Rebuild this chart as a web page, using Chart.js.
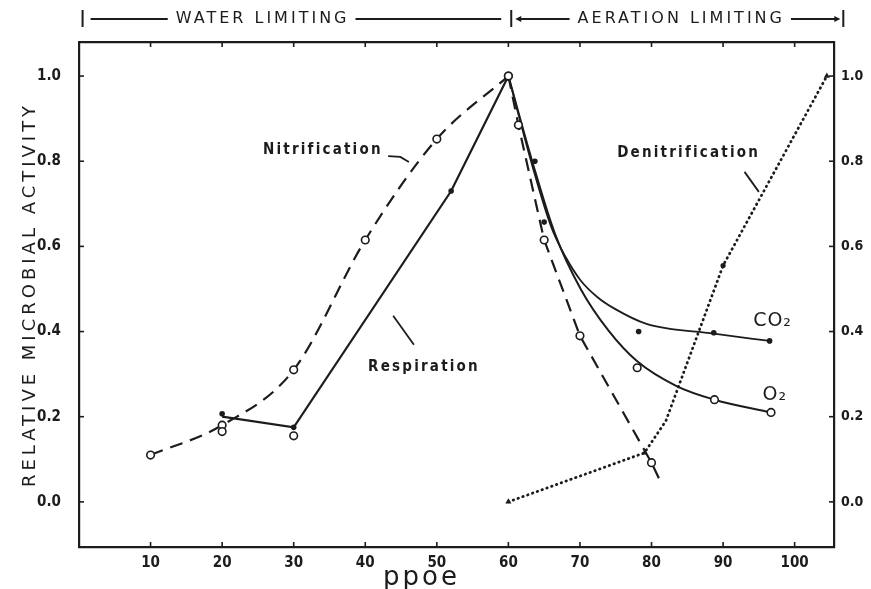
<!DOCTYPE html>
<html><head><meta charset="utf-8">
<script src="https://cdn.jsdelivr.net/npm/chart.js@4/dist/chart.umd.min.js"></script>
<style>html,body{margin:0;padding:0;background:#fff;overflow:hidden}</style>
</head><body>
<canvas id="c" width="871" height="589"></canvas>
<script>
// ---------------- data ----------------
const xTickValues = [10,20,30,40,50,60,70,80,90,100];
const yTickValues = [0,0.2,0.4,0.6,0.8,1.0];
const yTickLabels = ['0.0','0.2','0.4','0.6','0.8','1.0'];
const xTitle = 'ppoe';
const yTitle = 'RELATIVE MICROBIAL ACTIVITY';
const headerLabels = ['WATER LIMITING','AERATION LIMITING'];
const headerBounds = [0.5, 60.4, 106.8];

const nitrificationX = [10,20,30,40,50,60,61.4,65,70,80,81.4];
const nitrificationY = [0.11,0.18,0.31,0.615,0.852,1.0,0.885,0.615,0.39,0.092,0.042];
const respirationX = [20,30,52,60];
const respirationY = [0.2,0.175,0.73,1.0];
const co2CurveX = [60,63.5,66,68,70.1,72.5,74.7,79.3,88.7,96.5];
const co2CurveY = [1.0,0.78,0.645,0.575,0.52,0.48,0.455,0.418,0.395,0.378];
const o2CurveX = [60,63.5,66.5,70.1,74,78,83.5,88.8,96.7];
const o2CurveY = [1.0,0.79,0.63,0.50,0.402,0.33,0.272,0.24,0.21];
const co2PointsX = [20,30,52,63.7,65,78.2,88.7,96.5];
const co2PointsY = [0.207,0.175,0.73,0.80,0.657,0.40,0.397,0.378];
const o2PointsX = [20,30,78,88.8,96.7];
const o2PointsY = [0.165,0.155,0.315,0.24,0.21];
const denitrificationX = [60,79,82,90,104.5];
const denitrificationY = [0,0.115,0.19,0.555,1.0];

// ---------------- style ----------------
const ink = '#1c1c1c';
const narrow = "'Liberation Sans Narrow','DejaVu Sans Condensed','Arial Narrow',sans-serif";
const plain = "'DejaVu Sans','Liberation Sans',sans-serif";
const pts = (xs, ys) => xs.map((x, i) => ({x, y: ys[i]}));

const peak = nitrificationY.indexOf(Math.max(...nitrificationY));
const nitrRise = pts(nitrificationX.slice(0, peak + 1), nitrificationY.slice(0, peak + 1));
const nitrFall = pts(nitrificationX.slice(peak), nitrificationY.slice(peak));

const openPt = {pointStyle:'circle', pointRadius:3.8, pointBackgroundColor:'#fff', pointBorderColor:ink, pointBorderWidth:1.6};

const datasets = [
  {label:'CO2 measured', type:'scatter', data: pts(co2PointsX, co2PointsY), showLine:false,
   pointStyle:'circle', pointRadius:2.8, pointBackgroundColor:ink, pointBorderColor:ink, pointBorderWidth:0},
  {label:'O2 measured', type:'scatter', data: pts(o2PointsX, o2PointsY), showLine:false, ...openPt},
  {label:'Nitrification', data: nitrRise, borderColor:ink, borderWidth:2.2, borderDash:[13,8],
   cubicInterpolationMode:'monotone', fill:false, ...openPt},
  {label:'Nitrification (falling)', data: nitrFall, borderColor:ink, borderWidth:2.2, borderDash:[13,8],
   tension:0, fill:false, ...openPt,
   pointRadius: c => c.dataIndex === nitrFall.length - 1 ? 0 : 3.8},
  {label:'Respiration', data: pts(respirationX, respirationY), borderColor:ink, borderWidth:2.2,
   tension:0, pointRadius:0, fill:false},
  {label:'CO2', data: pts(co2CurveX, co2CurveY), borderColor:ink, borderWidth:1.8,
   cubicInterpolationMode:'monotone', pointRadius:0, fill:false},
  {label:'O2', data: pts(o2CurveX, o2CurveY), borderColor:ink, borderWidth:2.0,
   cubicInterpolationMode:'monotone', pointRadius:0, fill:false},
  {label:'Denitrification', data: pts(denitrificationX, denitrificationY), borderColor:ink, borderWidth:2.8,
   borderDash:[0.5,4.6], borderCapStyle:'round', tension:0, fill:false,
   pointStyle:['triangle','triangle','circle','circle','triangle'],
   pointRadius:[3.5,3,0,2.6,3.5], pointBackgroundColor:ink, pointBorderColor:ink, pointBorderWidth:0}
];

function spaced(ctx, txt, x, y, font, spacing, align) {
  ctx.save();
  ctx.font = font; ctx.letterSpacing = spacing; ctx.textAlign = align || 'left';
  ctx.textBaseline = 'middle'; ctx.fillStyle = ink;
  ctx.fillText(txt, x, y);
  ctx.restore();
}
function seg(ctx, pts) {
  ctx.beginPath(); ctx.moveTo(pts[0][0], pts[0][1]);
  for (let i = 1; i < pts.length; i++) ctx.lineTo(pts[i][0], pts[i][1]);
  ctx.stroke();
}

const decor = {
  id:'decor',
  beforeDraw(chart) {
    const ys = chart.scales.y, xs = chart.scales.x;
    if (!ys._wrapped) {
      const oy = ys.drawTitle.bind(ys);
      ys.drawTitle = function(){ const c = this.ctx; c.save(); c.letterSpacing = '4px'; oy(); c.restore(); };
      ys._wrapped = true;
    }
    if (!xs._wrapped) {
      const ox = xs.drawTitle.bind(xs);
      xs.drawTitle = function(){ const c = this.ctx; c.save(); c.translate(-35,0); c.letterSpacing = '3px'; ox(); c.restore(); };
      xs._wrapped = true;
    }
  },
  afterDraw(chart) {
    const {ctx, chartArea:a, scales:{x, y}} = chart;
    const X = v => x.getPixelForValue(v), Y = v => y.getPixelForValue(v);
    ctx.save();
    ctx.strokeStyle = ink; ctx.fillStyle = ink; ctx.lineWidth = 1.6;
    // inward tick marks
    for (const v of xTickValues) { const p = X(v); seg(ctx, [[p,a.bottom],[p,a.bottom-5]]); seg(ctx, [[p,a.top],[p,a.top+5]]); }
    for (const v of yTickValues) { const p = Y(v); seg(ctx, [[a.left,p],[a.left+5,p]]); seg(ctx, [[a.right,p],[a.right-5,p]]); }

    // header bracket
    const hy = 19;
    const b0 = X(headerBounds[0]), b1 = X(headerBounds[1]), b2 = X(headerBounds[2]);
    ctx.lineWidth = 2;
    for (const b of [b0, b1, b2]) seg(ctx, [[b, hy-9], [b, hy+8]]);
    const hfont = "16px " + plain;
    ctx.font = hfont; ctx.letterSpacing = '3px';
    const w1 = ctx.measureText(headerLabels[0]).width, w2 = ctx.measureText(headerLabels[1]).width;
    ctx.letterSpacing = '0px';
    const c1 = b0 + 0.42 * (b1 - b0), c2 = (b1 + b2) / 2 + 4;
    spaced(ctx, headerLabels[0], c1, hy, hfont, '3px', 'center');
    spaced(ctx, headerLabels[1], c2, hy, hfont, '3px', 'center');
    ctx.lineWidth = 2;
    seg(ctx, [[b0+8, hy], [c1 - w1/2 - 8, hy]]);
    seg(ctx, [[c1 + w1/2 + 6, hy], [b1 - 10, hy]]);
    seg(ctx, [[b1+6, hy], [c2 - w2/2 - 8, hy]]);
    seg(ctx, [[c2 + w2/2 + 6, hy], [b2 - 5, hy]]);
    ctx.beginPath(); ctx.moveTo(b1+4, hy); ctx.lineTo(b1+10, hy-3); ctx.lineTo(b1+10, hy+3); ctx.closePath(); ctx.fill();
    ctx.beginPath(); ctx.moveTo(b2-3, hy); ctx.lineTo(b2-9, hy-3); ctx.lineTo(b2-9, hy+3); ctx.closePath(); ctx.fill();

    // in-plot labels
    const lf = "bold 15px " + narrow;
    spaced(ctx, 'Nitrification', X(25.7), Y(0.826), lf, '2.2px');
    spaced(ctx, 'Denitrification', X(75.2), Y(0.819), lf, '2.2px');
    spaced(ctx, 'Respiration', X(40.4), Y(0.317), lf, '2.2px');
    spaced(ctx, 'CO\u2082', X(94.2), Y(0.425), "19px " + plain, '1px');
    spaced(ctx, 'O\u2082', X(95.5), Y(0.251), "19px " + plain, '1px');
    ctx.lineWidth = 1.8;
    seg(ctx, [[X(43.2), Y(0.812)], [X(44.9), Y(0.810)], [X(46.1), Y(0.798)]]);
    seg(ctx, [[X(93.0), Y(0.775)], [X(95.0), Y(0.728)]]);
    seg(ctx, [[X(43.9), Y(0.437)], [X(46.8), Y(0.369)]]);
    ctx.restore();
  }
};

const tickFont = {family: narrow, size: 15, weight: 'bold'};
const yBase = {
  type:'linear', min:-0.106, max:1.08,
  afterBuildTicks: s => { s.ticks = yTickValues.map(v => ({value:v})); },
  grid:{display:false, drawTicks:false},
  border:{display:true, width:2.2, color:ink},
};

new Chart(document.getElementById('c'), {
  type:'line',
  data:{datasets},
  plugins:[decor],
  options:{
    responsive:false, animation:false, devicePixelRatio:1,
    layout:{padding:0},
    plugins:{legend:{display:false}, tooltip:{enabled:false}},
    scales:{
      x:{type:'linear', position:'bottom', min:0, max:105.5,
        afterBuildTicks: s => { s.ticks = xTickValues.map(v => ({value:v})); },
        afterFit: s => { s.height = 42; },
        grid:{display:false, drawTicks:false},
        border:{display:true, width:2.2, color:ink},
        ticks:{padding:7, font:tickFont, color:ink, maxRotation:0, autoSkip:false, callback: v => String(v)},
        title:{display:true, text:xTitle, color:ink, font:{family:plain, size:26, lineHeight:0.8}, padding:0}
      },
      xTop:{type:'linear', position:'top', min:0, max:105.5,
        afterFit: s => { s.height = 42; },
        grid:{display:false, drawTicks:false},
        border:{display:true, width:2.2, color:ink},
        ticks:{display:false}
      },
      y:{...yBase, position:'left',
        afterFit: s => { s.width = 79; },
        ticks:{padding:18, font:tickFont, color:ink, callback: v => yTickLabels[yTickValues.indexOf(v)] ?? ''},
        title:{display:true, text:yTitle, color:ink, font:{family:plain, size:18}, padding:{top:20, bottom:0}}
      },
      y2:{...yBase, position:'right',
        afterFit: s => { s.width = 37; },
        ticks:{padding:7, font:{family: narrow, size: 14, weight:'bold'}, color:ink, callback: v => yTickLabels[yTickValues.indexOf(v)] ?? ''}
      }
    }
  }
});
</script>
</body></html>
